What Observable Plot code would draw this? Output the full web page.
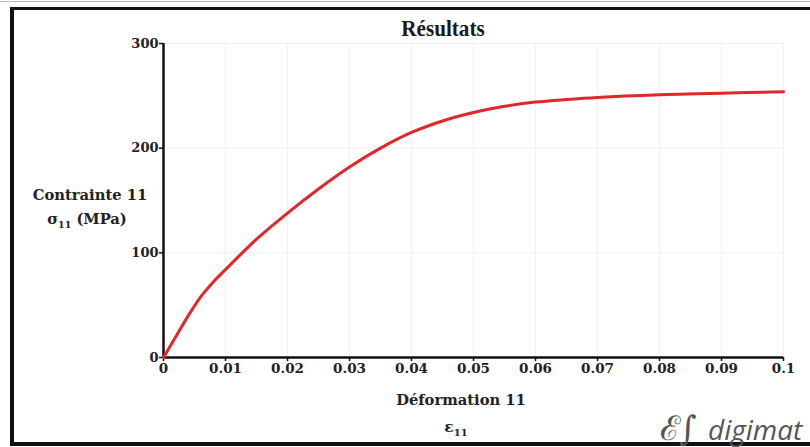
<!DOCTYPE html>
<html>
<head>
<meta charset="utf-8">
<script src="https://cdn.jsdelivr.net/npm/d3@7"></script>
<script src="https://cdn.jsdelivr.net/npm/@observablehq/plot@0.6"></script>
<style>
  html, body { margin: 0; padding: 0; background: #fff; overflow: hidden; }
  #wrap { position: relative; width: 810px; height: 447px; overflow: hidden; }
  #frame { position: absolute; left: 10px; top: 7px; width: 900px; height: 432px;
           border-left: 4px solid #111; border-top: 3px solid #111; border-bottom: 4px solid #111; border-right: none; }
  #topline { position: absolute; left: 0; top: 1px; width: 810px; height: 1px; background: #bbb; }
  .lbl { position: absolute; font-family: "DejaVu Serif", serif; font-weight: bold; color: #222; white-space: nowrap; }
  #title { font-family: "Liberation Serif", serif; font-size: 23px; left: 443px; top: 16px; transform: translateX(-50%) scaleX(0.92); color:#1a1a1a; }
  #ylab1 { font-size: 15.5px; left: 90px; top: 185px; transform: translateX(-50%) scaleX(0.95); }
  #ylab2 { font-size: 15.5px; left: 87px; top: 209px; transform: translateX(-50%) scaleX(0.95); }
  #xlab1 { font-size: 15.5px; left: 461px; top: 390px; transform: translateX(-50%) scaleX(0.95); }
  #xlab2 { font-size: 15.5px; left: 456px; top: 417px; transform: translateX(-50%); }
  #logo { position: absolute; left: 660px; top: 404px; font-family: "Open Sans", sans-serif; font-style: italic; font-size: 28px; color: #555; white-space: nowrap; }
  #sym { display: inline-block; width: 48px; font-style: normal; font-family: 'DejaVu Serif', serif; font-size: 34px; letter-spacing: -2px; }
  #plot { position: absolute; left: 0; top: 0; }
</style>
</head>
<body>
<div id="wrap">
  <div id="plot"></div>
  <div id="topline"></div>
  <div id="frame"></div>
  <div class="lbl" id="title">Résultats</div>
  <div class="lbl" id="ylab1">Contrainte 11</div>
  <div class="lbl" id="ylab2">σ<sub style="font-size:10px">11</sub> (MPa)</div>
  <div class="lbl" id="xlab1">Déformation 11</div>
  <div class="lbl" id="xlab2">ε<sub style="font-size:10px">11</sub></div>
  <div id="logo"><span id="sym">ℰ∫</span>digimat</div>
</div>
<script>
// Strain (Déformation 11) and stress (Contrainte 11, MPa)
const strain = [0, 0.002, 0.004, 0.006, 0.008, 0.01, 0.015, 0.02, 0.025, 0.03, 0.035, 0.04, 0.045, 0.05, 0.055, 0.06, 0.065, 0.07, 0.08, 0.09, 0.1];
const stress = [0, 20, 40, 58, 72, 84, 113, 138, 161, 182, 200, 215, 226, 234, 240, 244, 246.5, 248.5, 251, 252.5, 254];

const xTicks = [0, 0.01, 0.02, 0.03, 0.04, 0.05, 0.06, 0.07, 0.08, 0.09, 0.1];
const xTickLabels = ["0", "0.01", "0.02", "0.03", "0.04", "0.05", "0.06", "0.07", "0.08", "0.09", "0.1"];
const yTicks = [0, 100, 200, 300];
const yTickLabels = ["0", "100", "200", "300"];

const data = strain.map((s, i) => ({strain: s, stress: stress[i]}));

const chart = Plot.plot({
  width: 810,
  height: 447,
  marginLeft: 163,
  marginRight: 27,
  marginTop: 43,
  marginBottom: 90,
  style: {background: "transparent", fontFamily: "DejaVu Serif, serif"},
  x: {domain: [0, 0.1], ticks: xTicks},
  y: {domain: [0, 300], ticks: yTicks},
  marks: [
    Plot.gridX(xTicks.slice(1), {stroke: "#f0f0f0", strokeOpacity: 1}),
    Plot.gridY(yTicks.slice(1), {stroke: "#f0f0f0", strokeOpacity: 1}),
    Plot.axisX(xTicks, {tickSize: 4, tickPadding: 2, tickFormat: (d, i) => xTickLabels[i], fontSize: 13.5, fontWeight: "bold", fill: "#222", stroke: "#111", strokeWidth: 1.5, label: null}),
    Plot.axisY(yTicks, {tickSize: 4, tickPadding: 1, tickFormat: (d, i) => yTickLabels[i], fontSize: 13, fontWeight: "bold", fill: "#222", stroke: "#111", strokeWidth: 1.5, label: null}),
    Plot.ruleY([0], {stroke: "#111", strokeWidth: 2.5}),
    Plot.ruleX([0], {stroke: "#111", strokeWidth: 2.5}),
    Plot.line(data, {x: "strain", y: "stress", stroke: "#e3262a", strokeWidth: 3, curve: "catmull-rom"})
  ]
});
document.getElementById("plot").appendChild(chart);
</script>
</body>
</html>
